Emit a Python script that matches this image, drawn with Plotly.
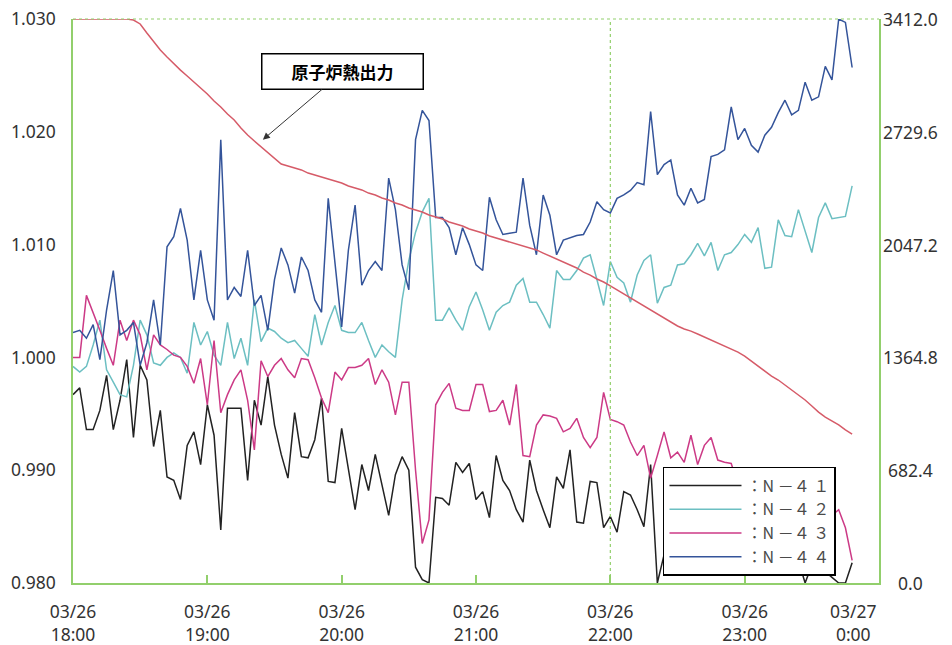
import pandas as pd
import plotly.graph_objects as go

# sampling grid: one reading every 3 minutes from 18:00
times = pd.date_range("2000-03-26 18:00", periods=117, freq="3min")

n41 = [0.9967, 0.9973, 0.9936, 0.9936, 0.9953, 0.9984, 0.9936, 0.9962, 0.9998, 0.9929,
       0.9993, 0.9980, 0.9921, 0.9953, 0.9894, 0.9891, 0.9874, 0.9922, 0.9934, 0.9905,
       0.9958, 0.9931, 0.9847, 0.9955, 0.9955, 0.9955, 0.9891, 0.9962, 0.9940, 0.9983,
       0.9940, 0.9914, 0.9893, 0.9951, 0.9912, 0.9911, 0.9927, 0.9964, 0.9890, 0.9889,
       0.9937, 0.9900, 0.9865, 0.9905, 0.9882, 0.9914, 0.9887, 0.9860, 0.9896, 0.9912,
       0.9900, 0.9814, 0.9803, 0.9800, 0.9876, 0.9875, 0.9869, 0.9907, 0.9898, 0.9906,
       0.9874, 0.9881, 0.9858, 0.9913, 0.9891, 0.9882, 0.9865, 0.9854, 0.9909, 0.9882,
       0.9865, 0.9849, 0.9894, 0.9884, 0.9918, 0.9854, 0.9853, 0.9890, 0.9889, 0.9849,
       0.9859, 0.9845, 0.9881, 0.9878, 0.9865, 0.9850, 0.9905, 0.9800, 0.9825, 0.9834,
       0.9843, 0.9834, 0.9847, 0.9838, 0.9829, 0.9825, 0.9818, 0.9820, 0.9814, 0.9820,
       0.9814, 0.9834, 0.9838, 0.9843, 0.9834, 0.9829, 0.9819, 0.9814, 0.9820, 0.9800,
       0.9816, 0.9814, 0.9810, 0.9805, 0.9800, 0.9800, 0.9818]

n42 = [0.9992, 0.9987, 0.9992, 1.0011, 1.0033, 0.9989, 0.9978, 0.9967, 0.9965, 0.9993,
       1.0033, 1.0020, 0.9995, 0.9993, 1.0000, 1.0004, 1.0000, 0.9986, 1.0031, 1.0011,
       1.0023, 1.0002, 0.9993, 1.0031, 0.9999, 1.0017, 0.9993, 1.0051, 1.0014, 1.0026,
       1.0023, 1.0017, 1.0013, 1.0015, 1.0008, 1.0001, 1.0038, 1.0011, 1.0031, 1.0046,
       1.0024, 1.0022, 1.0022, 1.0031, 1.0015, 1.0000, 1.0011, 1.0005, 1.0000, 1.0051,
       1.0086, 1.0111, 1.0129, 1.0141, 1.0033, 1.0033, 1.0044, 1.0033, 1.0024, 1.0045,
       1.0058, 1.0042, 1.0024, 1.0040, 1.0046, 1.0049, 1.0064, 1.0070, 1.0049, 1.0049,
       1.0038, 1.0026, 1.0077, 1.0069, 1.0069, 1.0077, 1.0088, 1.0091, 1.0069, 1.0046,
       1.0085, 1.0071, 1.0066, 1.0049, 1.0073, 1.0086, 1.0091, 1.0048, 1.0062, 1.0064,
       1.0082, 1.0083, 1.0091, 1.0101, 1.0090, 1.0102, 1.0077, 1.0091, 1.0093, 1.0100,
       1.0109, 1.0102, 1.0115, 1.0079, 1.0080, 1.0122, 1.0108, 1.0107, 1.0131, 1.0113,
       1.0093, 1.0124, 1.0137, 1.0123, 1.0124, 1.0125, 1.0152]

n43 = [1.0000, 1.0000, 1.0055, 1.0040, 1.0024, 1.0008, 0.9993, 1.0033, 1.0015, 1.0033,
       1.0020, 0.9989, 1.0020, 1.0011, 1.0007, 1.0002, 1.0000, 0.9992, 0.9977, 0.9999,
       0.9958, 1.0015, 0.9951, 0.9967, 0.9980, 0.9989, 0.9962, 0.9918, 0.9997, 0.9983,
       0.9993, 0.9999, 0.9989, 0.9982, 0.9999, 0.9998, 0.9982, 0.9964, 0.9951, 0.9987,
       0.9980, 0.9991, 0.9991, 0.9993, 0.9999, 0.9976, 0.9989, 0.9978, 0.9949, 0.9978,
       0.9978, 0.9900, 0.9835, 0.9856, 0.9958, 0.9969, 0.9977, 0.9955, 0.9953, 0.9953,
       0.9976, 0.9976, 0.9952, 0.9953, 0.9962, 0.9940, 0.9976, 0.9913, 0.9912, 0.9940,
       0.9949, 0.9948, 0.9946, 0.9934, 0.9937, 0.9946, 0.9929, 0.9920, 0.9929, 0.9969,
       0.9945, 0.9943, 0.9940, 0.9925, 0.9913, 0.9922, 0.9893, 0.9913, 0.9934, 0.9911,
       0.9916, 0.9907, 0.9931, 0.9905, 0.9922, 0.9929, 0.9909, 0.9907, 0.9906, 0.9887,
       0.9882, 0.9874, 0.9878, 0.9869, 0.9865, 0.9874, 0.9869, 0.9865, 0.9860, 0.9869,
       0.9865, 0.9863, 0.9860, 0.9860, 0.9865, 0.9849, 0.9820]

n44 = [1.0022, 1.0024, 1.0017, 1.0029, 0.9998, 1.0042, 1.0077, 1.0020, 1.0024, 1.0031,
       0.9993, 1.0013, 1.0051, 1.0011, 1.0098, 1.0107, 1.0132, 1.0104, 1.0051, 1.0095,
       1.0051, 1.0033, 1.0193, 1.0051, 1.0062, 1.0054, 1.0095, 1.0046, 1.0055, 1.0024,
       1.0069, 1.0097, 1.0082, 1.0057, 1.0089, 1.0077, 1.0051, 1.0040, 1.0141, 1.0086,
       1.0027, 1.0095, 1.0135, 1.0064, 1.0077, 1.0085, 1.0077, 1.0159, 1.0131, 1.0082,
       1.0060, 1.0193, 1.0219, 1.0210, 1.0124, 1.0124, 1.0115, 1.0091, 1.0115, 1.0100,
       1.0082, 1.0077, 1.0142, 1.0122, 1.0109, 1.0110, 1.0111, 1.0159, 1.0117, 1.0091,
       1.0144, 1.0126, 1.0091, 1.0104, 1.0106, 1.0108, 1.0109, 1.0120, 1.0138, 1.0131,
       1.0128, 1.0141, 1.0144, 1.0148, 1.0155, 1.0153, 1.0218, 1.0162, 1.0171, 1.0175,
       1.0144, 1.0135, 1.0150, 1.0137, 1.0140, 1.0178, 1.0180, 1.0184, 1.0222, 1.0193,
       1.0203, 1.0188, 1.0182, 1.0197, 1.0204, 1.0217, 1.0228, 1.0215, 1.0219, 1.0244,
       1.0228, 1.0231, 1.0258, 1.0246, 1.0300, 1.0297, 1.0257]

# reactor thermal output (MWt), right axis
thermal_power = [3412, 3412, 3412, 3412, 3412, 3412, 3412, 3412, 3412, 3406,
                 3382, 3327, 3273, 3224, 3182, 3140, 3103, 3067, 3031, 2995,
                 2958, 2916, 2880, 2837, 2801, 2753, 2710, 2674, 2638, 2601,
                 2565, 2535, 2523, 2511, 2499, 2480, 2468, 2456, 2444, 2432,
                 2420, 2402, 2390, 2378, 2359, 2347, 2329, 2317, 2299, 2287,
                 2269, 2256, 2244, 2226, 2214, 2202, 2184, 2172, 2160, 2142,
                 2129, 2117, 2099, 2087, 2075, 2063, 2051, 2039, 2027, 2015,
                 1996, 1978, 1960, 1942, 1924, 1906, 1881, 1863, 1839, 1821,
                 1797, 1773, 1748, 1724, 1700, 1676, 1652, 1627, 1603, 1579,
                 1555, 1537, 1524, 1506, 1488, 1470, 1452, 1434, 1416, 1397,
                 1373, 1343, 1313, 1283, 1252, 1228, 1198, 1168, 1137, 1107,
                 1071, 1034, 1004, 980, 956, 926, 901]

series_names = ["：N －４ １", "：N －４ ２", "：N －４ ３", "：N －４ ４"]
series_colors = ["#222222", "#6cbfc2", "#cc3a86", "#34549a"]

x_tick_times = pd.date_range("2000-03-26 18:00", periods=7, freq="1h")
x_tick_text = ["03/26<br>18:00", "03/26<br>19:00", "03/26<br>20:00", "03/26<br>21:00",
               "03/26<br>22:00", "03/26<br>23:00", "03/27<br>0:00"]
left_ticks = [0.980, 0.990, 1.000, 1.010, 1.020, 1.030]
left_tick_text = ["0.980", "0.990", "1.000", "1.010", "1.020", "1.030"]
right_ticks = [0.0, 682.4, 1364.8, 2047.2, 2729.6, 3412.0]
right_tick_text = ["0.0", "682.4", "1364.8", "2047.2", "2729.6", "3412.0"]

GREEN = "#92cf6c"
FONT = "Noto Sans, Open Sans, sans-serif"
TICK_SIZE = 17.5

fig = go.Figure()
for name, vals, color in zip(series_names, [n41, n42, n43, n44], series_colors):
    fig.add_trace(go.Scatter(x=times, y=vals, mode="lines", name=name,
                             line=dict(color=color, width=1.5)))

fig.add_trace(go.Scatter(x=times, y=thermal_power, mode="lines", yaxis="y2",
                         showlegend=False, name="原子炉熱出力",
                         line=dict(color="#d65b68", width=1.5)))

# the last hour label sits flush with the right frame, so it is drawn separately
x_tick_shown = x_tick_text[:-1] + [""]

fig.update_layout(
    width=952, height=645,
    margin=dict(l=73, r=73, t=19, b=62),
    paper_bgcolor="white", plot_bgcolor="white",
    font=dict(family=FONT, size=17, color="#333333"),
    xaxis=dict(range=[x_tick_times[0], x_tick_times[-1]],
               tickvals=x_tick_times, ticktext=x_tick_shown,
               ticks="inside", ticklen=8, tickcolor=GREEN, tickwidth=1.5,
               showline=True, linecolor=GREEN, linewidth=1.5,
               showgrid=False, zeroline=False, automargin=False,
               ticklabelstandoff=12,
               tickfont=dict(size=TICK_SIZE)),
    yaxis=dict(range=[0.980, 1.030], tickvals=left_ticks, ticktext=left_tick_text,
               showline=True, linecolor=GREEN, linewidth=1.5,
               showgrid=False, zeroline=False, ticks="", automargin=False,
               ticklabelstandoff=12, tickfont=dict(size=TICK_SIZE)),
    yaxis2=dict(range=[0, 3412], tickvals=right_ticks,
                overlaying="y", side="right", showticklabels=False,
                showline=True, linecolor=GREEN, linewidth=1.5,
                showgrid=False, zeroline=False, ticks="", automargin=False),
    legend=dict(x=0.732, y=0.2057, xanchor="left", yanchor="top",
                bgcolor="white", bordercolor="black", borderwidth=1.5,
                font=dict(family="Noto Sans CJK JP", size=16, color="#4a4a4a"),
                itemwidth=72, tracegroupgap=0),
    showlegend=True,
)

# right-axis labels, centred in the right margin
for val, txt in zip(right_ticks, right_tick_text):
    fig.add_annotation(x=1.0397, xref="paper", y=val, yref="y2", text=txt,
                       showarrow=False, xanchor="center", yanchor="middle",
                       font=dict(family=FONT, size=TICK_SIZE, color="#333333"))

fig.add_annotation(x=1.0, xref="paper", y=0, yref="paper", text=x_tick_text[-1],
                   showarrow=False, xanchor="right", yanchor="top", yshift=-14,
                   align="center",
                   font=dict(family=FONT, size=TICK_SIZE, color="#333333"))

# dotted top frame and the dotted marker at 22:00
fig.add_shape(type="line", xref="paper", yref="paper", x0=0, x1=1, y0=1, y1=1,
              line=dict(color=GREEN, width=1.2, dash="dot"))
fig.add_vline(x=x_tick_times[4], line=dict(color=GREEN, width=1.2, dash="dot"))

fig.add_annotation(
    x=pd.Timestamp("2000-03-26 19:24:48"), y=1.0193, xref="x", yref="y",
    text="<b>原子炉熱出力</b>", showarrow=True, ax=80, ay=-68,
    arrowhead=2, arrowsize=1.4, arrowwidth=1, arrowcolor="#333333",
    bordercolor="black", borderwidth=1.5, borderpad=1, bgcolor="white",
    width=158, height=32,
    font=dict(family="Noto Sans CJK JP", size=17, color="black"),
)

fig.write_html("out.html")
